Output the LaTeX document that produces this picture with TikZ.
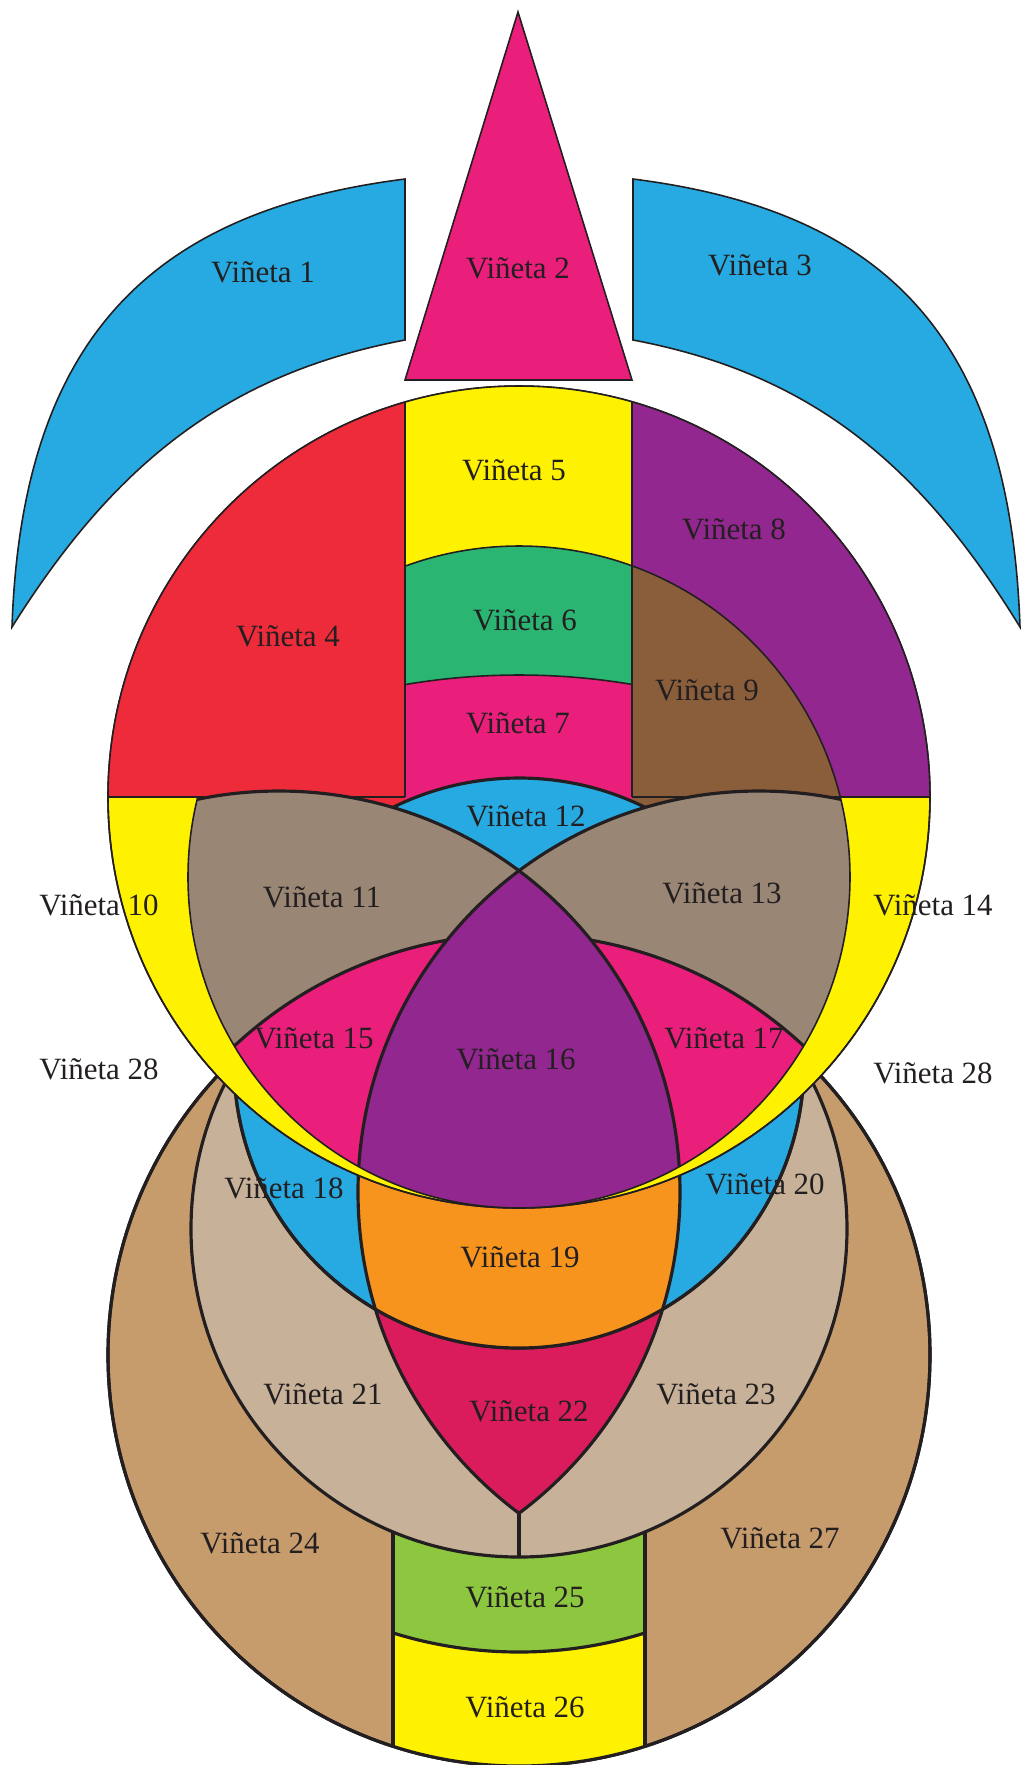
\documentclass[tikz,border=0pt]{standalone}
\usepackage{fontspec}
\setmainfont{Liberation Serif}

\definecolor{vblue}{HTML}{27AAE1}
\definecolor{vpink}{HTML}{EA1E7B}
\definecolor{vcrimson}{HTML}{DA1C5C}
\definecolor{vyellow}{HTML}{FFF200}
\definecolor{vred}{HTML}{EE2B3B}
\definecolor{vpurple}{HTML}{92278F}
\definecolor{vgreen}{HTML}{2BB573}
\definecolor{vbrown}{HTML}{8A5D3B}
\definecolor{vgray}{HTML}{998675}
\definecolor{vorange}{HTML}{F7941E}
\definecolor{vbeige}{HTML}{C7B299}
\definecolor{vtan}{HTML}{C69C6D}
\definecolor{vlime}{HTML}{8DC63F}
\definecolor{vink}{HTML}{231F20}

% circles of the figure (pixel units, y downwards)
\newcommand{\circA}{(519,797) circle[radius=411]}
\newcommand{\circB}{(519,877) circle[radius=331]}
\newcommand{\circEL}{(759,1192) circle[radius=401]}
\newcommand{\circER}{(279,1192) circle[radius=401]}
\newcommand{\circF}{(519,1063) circle[radius=285]}
\newcommand{\circG}{(519,1350) circle[radius=675]}
\newcommand{\circK}{(519,1352) circle[radius=418]}
\newcommand{\circH}{(519,1355) circle[radius=411]}
\newcommand{\circI}{(519,1229) circle[radius=328]}
\newcommand{\circJ}{(519,1229) circle[radius=423]}

\tikzset{
  rim/.style={draw=vink, line width=0.45pt},
  seam/.style={draw=vink, line width=0.9pt},
  tag/.style={text=vink, font=\fontsize{8.8}{10}\selectfont, inner sep=0pt},
}

\begin{document}
\begin{tikzpicture}[yscale=-1, x=0.01cm, y=0.01cm]
\useasboundingbox (0,0) rectangle (1021,1765);

% top pieces
\filldraw[fill=vblue, rim] (12,627) .. controls (22,330) and (160,210) .. (405,179)
  -- (405,340) .. controls (225,374) and (113,466) .. (12,627) -- cycle;
\filldraw[fill=vblue, rim] (1020,627) .. controls (1010,330) and (878,210) .. (633,179)
  -- (633,340) .. controls (813,374) and (921,466) .. (1020,627) -- cycle;
\filldraw[fill=vpink, rim] (518,12) -- (632,380) -- (405,380) -- cycle;

% lower body
\filldraw[fill=vtan, seam] \circH;
\begin{scope}
  \clip \circH;
  \filldraw[fill=vyellow, seam] (393,1300) rectangle (645,1800);
  \clip \circJ;
  \filldraw[fill=vlime, seam] (393,1300) rectangle (645,1800);
\end{scope}
\begin{scope}
  \clip (393,1300) rectangle (645,1800);
  \draw[seam] \circJ;
\end{scope}
\draw[seam] \circH;
\filldraw[fill=vbeige, seam] \circI;
\begin{scope}
  \clip \circER;
  \filldraw[fill=vcrimson, seam] \circEL;
\end{scope}
\begin{scope}
  \clip \circEL;
  \draw[seam] \circER;
\end{scope}
\coordinate (tip) at (519,1513);
\coordinate (foot) at (519,1557);
\draw[seam] (tip) -- (foot);

\filldraw[fill=vblue, seam] \circF;
\begin{scope}
  \clip \circF;
  \clip \circER;
  \filldraw[fill=vorange, seam] \circEL;
\end{scope}
\begin{scope}
  \clip \circF;
  \clip \circEL;
  \draw[seam] \circER;
\end{scope}
\draw[seam] \circF;

% head
\filldraw[fill=vyellow, rim] \circA;
\begin{scope}
  \clip \circA;
  \fill[vred] (0,0) rectangle (405,797);
  \fill[vyellow] (405,0) rectangle (632,900);
  \begin{scope}
    \clip \circB;
    \fill[vred] (0,790) rectangle (405,830);
    \fill[vbrown] (632,790) rectangle (1021,830);
    \fill[vgreen] (405,0) rectangle (632,900);
    \clip \circG;
    \fill[vpink] (405,0) rectangle (632,900);
  \end{scope}
  \fill[vpurple] (632,0) rectangle (1021,797);
  \begin{scope}
    \clip \circB;
    \fill[vbrown] (632,0) rectangle (1021,797);
  \end{scope}
  \draw[rim] (405,0) -- (405,797) (632,0) -- (632,797)
    (0,797) -- (405,797) (632,797) -- (1021,797);
  \begin{scope}
    \clip (405,0) rectangle (1021,797);
    \draw[rim] \circB;
  \end{scope}
  \begin{scope}
    \clip (405,0) rectangle (632,797);
    \draw[rim] \circG;
  \end{scope}
  \begin{scope}
    \clip \circB;
    \fill[vblue] \circF;
    \begin{scope}
      \clip (380,700) rectangle (660,830);
      \draw[seam] \circF;
    \end{scope}
    \fill[vgray] \circER;
    \fill[vgray] \circEL;
    \begin{scope}
      \clip \circK;
      \fill[vpink] (0,0) rectangle (1021,1765);
    \end{scope}
    \draw[seam] \circK;
    \begin{scope}
      \clip \circER;
      \clip \circEL;
      \fill[vpurple] (0,0) rectangle (1021,1765);
    \end{scope}
    \draw[seam] \circER \circEL;
  \end{scope}
  \begin{scope}
    \clip (0,797) rectangle (1021,1765);
    \draw[rim] \circB;
  \end{scope}
\end{scope}
\draw[rim] \circA;

% labels
\node[tag] (v1) at (263,272) {Viñeta 1};
\node[tag] (v2) at (518,268) {Viñeta 2};
\node[tag] (v3) at (760,265) {Viñeta 3};
\node[tag] (v4) at (288,636) {Viñeta 4};
\node[tag] (v5) at (514,470) {Viñeta 5};
\node[tag] (v6) at (525,620) {Viñeta 6};
\node[tag] (v7) at (518,723) {Viñeta 7};
\node[tag] (v8) at (734,529) {Viñeta 8};
\node[tag] (v9) at (707,690) {Viñeta 9};
\node[tag] (v10) at (99,905) {Viñeta 10};
\node[tag] (v11) at (322,897) {Viñeta 11};
\node[tag] (v12) at (526,816) {Viñeta 12};
\node[tag] (v13) at (722,893) {Viñeta 13};
\node[tag] (v14) at (933,905) {Viñeta 14};
\node[tag] (v15) at (314,1038) {Viñeta 15};
\node[tag] (v16) at (516,1059) {Viñeta 16};
\node[tag] (v17) at (724,1038) {Viñeta 17};
\node[tag] (v18) at (284,1188) {Viñeta 18};
\node[tag] (v19) at (520,1257) {Viñeta 19};
\node[tag] (v20) at (765,1184) {Viñeta 20};
\node[tag] (v21) at (323,1394) {Viñeta 21};
\node[tag] (v22) at (529,1411) {Viñeta 22};
\node[tag] (v23) at (716,1394) {Viñeta 23};
\node[tag] (v24) at (260,1543) {Viñeta 24};
\node[tag] (v25) at (525,1597) {Viñeta 25};
\node[tag] (v26) at (525,1707) {Viñeta 26};
\node[tag] (v27) at (780,1538) {Viñeta 27};
\node[tag] (v28l) at (99,1069) {Viñeta 28};
\node[tag] (v28r) at (933,1073) {Viñeta 28};
\end{tikzpicture}
\end{document}
